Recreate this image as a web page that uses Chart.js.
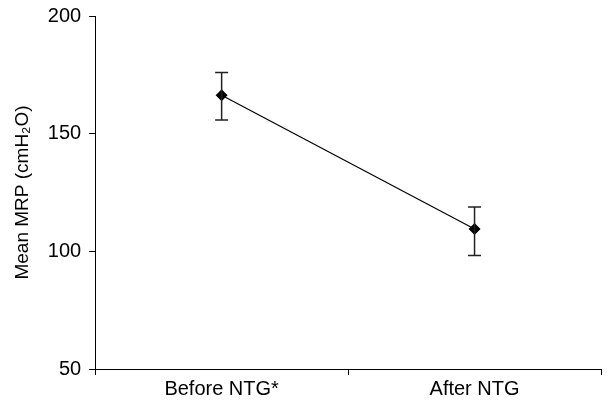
<!DOCTYPE html>
<html>
<head>
<meta charset="utf-8">
<script src="https://cdn.jsdelivr.net/npm/chart.js@4/dist/chart.umd.min.js"></script>
<style>
  html, body { margin: 0; padding: 0; background: #fff; }
  #wrap { width: 607px; height: 405px; }
</style>
</head>
<body>
<div id="wrap"><canvas id="mrpChart"></canvas></div>
<script>
    // valeurs
    const categories = ["Before NTG*", "After NTG"];
    const meanMRP = [166.3, 109.5];
    const errLow = [155.8, 98.2];
    const errHigh = [176.0, 118.8];
    const yTicks = [50, 100, 150, 200];

    const family = "'Liberation Sans', Arial, sans-serif";

    // barres d'erreur dessinées avec les échelles du graphique
    const errorBars = {
      id: 'errorBars',
      afterDatasetsDraw(chart) {
        const ctx = chart.ctx;
        const x = chart.scales.x, y = chart.scales.y;
        ctx.save();
        ctx.strokeStyle = '#222';
        ctx.lineWidth = 1.5;
        categories.forEach((c, i) => {
          const px = x.getPixelForValue(i);
          const top = y.getPixelForValue(errHigh[i]);
          const bot = y.getPixelForValue(errLow[i]);
          ctx.beginPath();
          ctx.moveTo(px, top); ctx.lineTo(px, bot);
          ctx.moveTo(px - 6.5, top); ctx.lineTo(px + 6.5, top);
          ctx.moveTo(px - 6.5, bot); ctx.lineTo(px + 6.5, bot);
          ctx.stroke();
        });
        ctx.restore();
      }
    };

    new Chart(document.getElementById('mrpChart'), {
      type: 'line',
      data: {
        labels: categories,
        datasets: [{
          data: meanMRP,
          borderColor: '#000',
          borderWidth: 1.2,
          backgroundColor: '#000',
          pointStyle: 'rectRot',
          pointRadius: 6,
          pointBackgroundColor: '#000',
          pointBorderWidth: 0,
          tension: 0
        }]
      },
      options: {
        responsive: true,
        maintainAspectRatio: false,
        animation: false,
        layout: { padding: { top: 0, right: 3, left: 11, bottom: 2 } },
        plugins: { legend: { display: false }, tooltip: { enabled: false } },
        scales: {
          x: {
            offset: true,
            grid: { offset: true, drawOnChartArea: false, drawTicks: true, tickLength: 6, color: '#000' },
            border: { color: '#000', width: 1 },
            ticks: { color: '#000', font: { family: family, size: 20 }, padding: 2, maxRotation: 0 }
          },
          y: {
            min: 50,
            max: 200,
            afterBuildTicks: axis => { axis.ticks = yTicks.map(v => ({ value: v })); },
            grid: { drawOnChartArea: false, drawTicks: true, tickLength: 6, color: '#000' },
            border: { color: '#000', width: 1 },
            ticks: { color: '#000', font: { family: family, size: 20, lineHeight: 0.8 }, padding: 8 },
            title: {
              display: true,
              text: 'Mean MRP (cmH₂O)',
              color: '#000',
              font: { family: family, size: 19 },
              padding: { top: 0, bottom: 6 }
            }
          }
        }
      },
      plugins: [errorBars]
    });
</script>
</body>
</html>
